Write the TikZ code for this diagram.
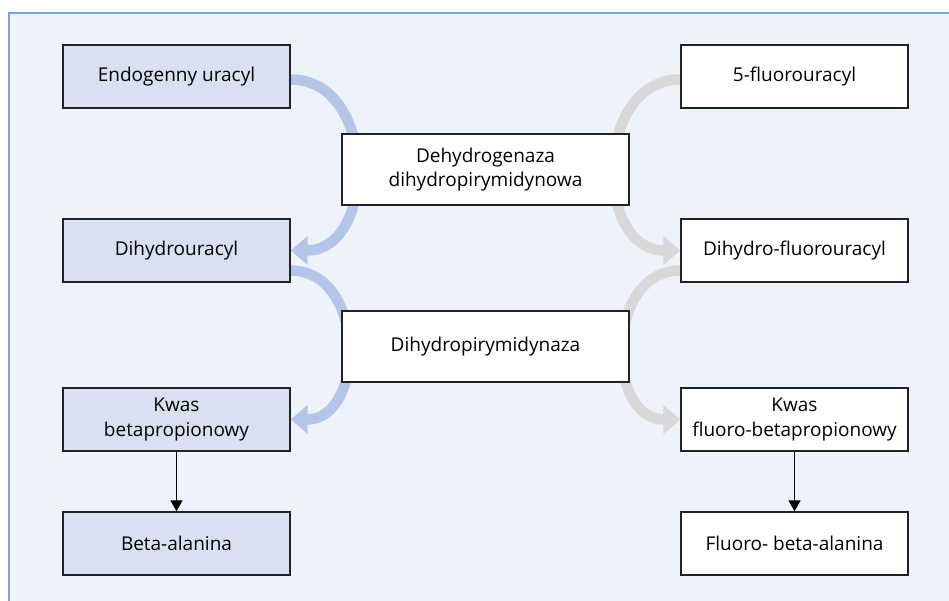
\documentclass[tikz,border=0pt]{standalone}
\usepackage{fontspec}
\setmainfont{Open Sans}
\usetikzlibrary{arrows.meta}
\pgfdeclarelayer{background}
\pgfdeclarelayer{flow}
\pgfsetlayers{background,flow,main}
\definecolor{panel}{HTML}{EEF2FA}
\definecolor{frame}{HTML}{7FA3D8}
\definecolor{bluebox}{HTML}{D9E0F1}
\definecolor{bluearr}{HTML}{B4C6E7}
\definecolor{grayarr}{HTML}{D8D8D8}
\definecolor{ink}{HTML}{222222}

\begin{document}
\begin{tikzpicture}[x=1pt,y=-1pt,>=latex,
  box/.style={draw=ink,line width=1.4pt,minimum width=227pt,minimum height=63pt,
    align=center,inner sep=0pt,text=black,font=\fontsize{19}{24.5}\selectfont},
  endo/.style={box,fill=bluebox},
  fluoro/.style={box,fill=white},
  enzyme/.style={box,fill=white,minimum width=287pt,minimum height=71pt},
  bigarrow/.style={line width=10.5pt,-{Triangle[length=17pt,width=28pt]}},
  smallarrow/.style={draw=black,line width=1.4pt,-{Triangle[length=11pt,width=12pt]}}]
  \useasboundingbox (0,0) rectangle (949,601);
  \begin{pgfonlayer}{background}
    \fill[panel] (9,13) rectangle (949,601);
    \draw[frame,line width=1.5pt] (949,13) -- (9,13) -- (9,601);
  \end{pgfonlayer}
  % endogenous pathway
  \node[endo] (eu) at (176.5,76.5) {Endogenny uracyl};
  \node[endo] (du) at (176.5,250.5) {Dihydrouracyl};
  \node[endo] (kb) at (176.5,419.5) {Kwas\\betapropionowy};
  \node[endo] (ba) at (176.5,543.5) {Beta-alanina};
  % 5-FU pathway
  \node[fluoro] (fu) at (794.5,76.5) {5-fluorouracyl};
  \node[fluoro] (dfu) at (794.5,250.5) {Dihydro-fluorouracyl};
  \node[fluoro] (kfb) at (794.5,419.5) {Kwas\\fluoro-betapropionowy};
  \node[fluoro] (fba) at (794.5,543.5) {Fluoro- beta-alanina};
  % enzymes
  \node[enzyme] (dpd) at (485.5,169.5) {Dehydrogenaza\\dihydropirymidynowa};
  \node[enzyme] (dhp) at (485.5,346.5) {Dihydropirymidynaza};
  \begin{pgfonlayer}{flow}
    \draw[bigarrow,draw=bluearr] ([yshift=-3pt]eu.east) to[out=0,in=0,looseness=1.3] (du.east);
    \draw[bigarrow,draw=bluearr] ([yshift=-20pt]du.east) to[out=0,in=0,looseness=1.3] (kb.east);
    \draw[bigarrow,draw=grayarr] ([yshift=-3pt]fu.west) to[out=180,in=180,looseness=1.3] (dfu.west);
    \draw[bigarrow,draw=grayarr] ([yshift=-20pt]dfu.west) to[out=180,in=180,looseness=1.3] (kfb.west);
  \end{pgfonlayer}
  \draw[smallarrow] (kb) -- (ba);
  \draw[smallarrow] (kfb) -- (fba);
\end{tikzpicture}
\end{document}
